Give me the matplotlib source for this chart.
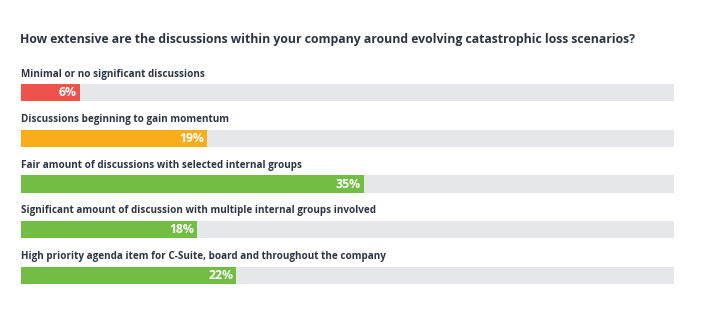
import matplotlib
matplotlib.use("Agg")
import matplotlib.pyplot as plt

title = "How extensive are the discussions within your company around evolving catastrophic loss scenarios?"
categories = [
    "Minimal or no significant discussions",
    "Discussions beginning to gain momentum",
    "Fair amount of discussions with selected internal groups",
    "Significant amount of discussion with multiple internal groups involved",
    "High priority agenda item for C-Suite, board and throughout the company",
]
values = [6, 19, 35, 18, 22]
colors = ["#ef524b", "#f9ad1b", "#72be44", "#72be44", "#72be44"]
track_max = 66.7

TEXT = "#2b3442"
TRACK = "#e6e7e8"
FONT = "Open Sans"

W, H, DPI = 710, 321, 100
fig = plt.figure(figsize=(W / DPI, H / DPI), dpi=DPI)
fig.patch.set_facecolor("white")

row_px = 45.6
first_px = 92.8
ax = fig.add_axes([21 / W, 0, 653 / W, 1])
ax.set_xlim(0, track_max)
ax.set_ylim((H - first_px) / row_px, -first_px / row_px)
ax.axis("off")

bar_h = 17.3 / row_px
label_off = (first_px - 74.0) / row_px

for i, (cat, v, c) in enumerate(zip(categories, values, colors)):
    ax.barh(i, track_max, height=bar_h, color=TRACK, left=0)
    ax.barh(i, v, height=bar_h, color=c, left=0)
    ax.text(0, i - label_off, cat, ha="left", va="center", fontsize=7.15,
            fontweight="bold", color=TEXT, family=FONT)
    ax.annotate(f"{v}%", xy=(v, i), xytext=(-3, 0), textcoords="offset pixels",
                ha="right", va="center", fontsize=8.8, fontweight="bold",
                color="white", family=FONT)

fig.text(20 / W, 1 - 40 / H, title, ha="left", va="center", fontsize=8.86,
         fontweight="bold", color=TEXT, family=FONT)

fig.savefig("out.png", dpi=DPI)
